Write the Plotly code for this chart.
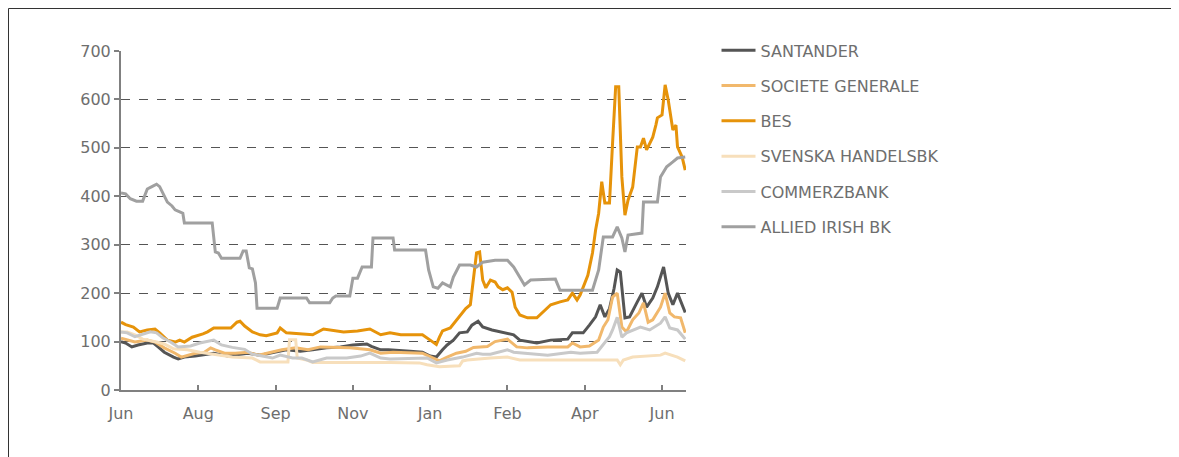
import pandas as pd
import plotly.graph_objects as go

START = pd.Timestamp("2013-06-20")

# days since START, CDS-like spread values
santander_days = [0,3,7,11,17,21,24,28,34,37,41,48,60,69,82,90,107,116,124,133,142,150,159,162,168,173,187,195,200,204,208,211,215,219,224,227,231,234,240,245,250,254,258,269,278,289,292,299,303,307,310,313,316,319,321,323,326,329,334,337,340,344,347,351,354,357,360,364,365]
santander_vals = [100,97,89,93,97,97,89,78,68,64,68,70,76,70,76,72,83,80,83,87,89,93,95,90,83,83,80,78,70,68,83,93,103,118,120,134,142,130,124,120,116,114,103,97,103,105,118,118,134,151,176,151,168,210,248,244,149,151,182,200,171,190,213,254,200,176,200,171,160]

socgen_days = [0,9,17,22,28,35,39,48,54,58,61,67,74,82,89,95,104,113,121,129,148,161,168,176,195,202,206,211,217,223,228,237,242,250,256,263,276,289,292,297,303,309,312,315,318,321,324,327,331,335,338,341,344,349,352,355,358,362,365]
socgen_vals = [107,99,103,99,87,76,68,76,78,87,83,76,76,78,72,76,83,87,83,89,87,83,76,78,76,66,60,68,76,80,88,90,100,105,89,87,89,89,97,89,91,103,130,145,192,200,130,120,145,159,180,140,145,171,200,159,151,149,118]

bes_days = [0,3,8,12,17,22,25,30,35,38,41,46,53,56,60,71,75,77,80,85,90,94,101,103,107,116,124,131,144,153,161,168,174,181,195,200,204,206,208,213,216,219,223,226,228,230,232,234,236,239,242,244,247,250,253,255,258,263,269,273,278,284,289,292,295,297,302,305,307,309,311,313,316,318,320,322,324,326,328,331,334,336,338,340,344,346,347,350,352,354,357,359,360,363,365]
bes_vals = [140,135,130,120,124,126,118,103,99,103,99,109,116,120,128,128,140,142,132,120,114,112,118,128,118,116,114,126,120,122,126,114,118,114,114,103,94,109,122,128,140,150,168,176,227,283,285,227,211,227,223,213,207,211,202,171,155,149,149,161,176,182,186,200,186,196,237,283,330,365,430,386,386,510,626,626,440,361,392,419,502,502,520,496,522,547,562,568,630,599,537,547,502,481,454]

svenska_days = [0,4,9,14,23,28,34,43,51,62,72,85,90,108,109,113,114,120,124,174,193,198,206,219,221,224,230,239,250,258,276,321,323,325,331,349,352,360,365]
svenska_vals = [120,120,114,105,99,95,85,83,78,72,68,66,58,58,104,104,66,62,57,57,56,52,48,50,60,62,64,66,68,62,62,62,52,62,68,72,76,68,60]

commerz_days = [0,4,9,14,19,23,27,32,37,45,51,60,65,72,80,85,98,103,111,117,124,133,146,155,161,168,174,198,204,211,221,230,234,239,250,254,260,276,291,297,308,312,316,318,321,324,327,336,342,349,352,355,360,364,365]
commerz_vals = [120,118,110,115,120,118,108,99,89,91,97,103,93,88,84,74,66,72,66,66,58,66,66,70,76,66,64,66,56,62,68,76,74,74,83,78,76,72,78,76,78,95,110,124,150,109,118,130,124,138,151,128,124,109,105]

aib_days = [0,3,6,10,14,17,20,23,25,27,30,33,35,38,40,41,59,61,63,65,77,79,81,83,85,87,88,101,103,120,122,135,137,139,148,150,153,156,162,163,176,177,197,199,202,205,208,213,215,219,226,230,234,242,250,254,258,261,265,281,284,305,309,312,318,321,324,326,328,337,338,347,349,353,357,360,365]
aib_vals = [407,405,395,390,390,415,420,425,420,407,388,380,372,368,365,345,345,285,283,272,272,287,287,252,250,221,169,169,190,190,180,180,190,194,194,231,231,254,254,314,314,289,289,248,213,210,221,213,233,258,258,254,264,268,268,254,233,217,227,229,206,206,248,316,316,337,314,285,320,324,388,388,440,461,471,479,481]

series_names = ["SANTANDER", "SOCIETE GENERALE", "BES", "SVENSKA HANDELSBK", "COMMERZBANK", "ALLIED IRISH BK"]
series_days = [santander_days, socgen_days, bes_days, svenska_days, commerz_days, aib_days]
series_vals = [santander_vals, socgen_vals, bes_vals, svenska_vals, commerz_vals, aib_vals]
series_colors = ["#555555", "#f1b86c", "#e6930a", "#f7dfbb", "#c9c9c9", "#a0a0a0"]

tick_days = [0, 50, 100, 150, 200, 250, 300, 350]
y_ticks = [0, 100, 200, 300, 400, 500, 600, 700]

FONT = "DejaVu Sans"
TXT = "#6e6e6e"

fig = go.Figure()
for name, d, v, c in zip(series_names, series_days, series_vals, series_colors):
    fig.add_trace(go.Scatter(
        x=START + pd.to_timedelta(d, unit="D"), y=v, name=name, mode="lines",
        line=dict(color=c, width=3), legendgroup=name,
    ))

# page body has an 8px margin; plot area should land at x 121..686, y 51..390
fig.update_layout(
    width=1171, height=449,
    margin=dict(l=113, r=493, t=43, b=67),
    paper_bgcolor="white", plot_bgcolor="white",
    font=dict(family=FONT, size=16, color=TXT),
    showlegend=True,
    legend=dict(x=1.054, y=1.052, xanchor="left", yanchor="top",
                font=dict(family=FONT, size=16, color=TXT),
                itemwidth=34, tracegroupgap=11.5, bgcolor="rgba(0,0,0,0)"),
    xaxis=dict(
        range=[START, START + pd.Timedelta(days=365.5)],
        tickvals=[START + pd.Timedelta(days=t) for t in tick_days],
        tickformat="%b", showgrid=False, zeroline=False,
        showline=True, linecolor="#808080", linewidth=2,
        ticks="inside", ticklen=5, tickcolor="#808080", tickwidth=1.5,
        ticklabelstandoff=8,
        tickfont=dict(family=FONT, size=16, color=TXT),
    ),
    yaxis=dict(
        range=[0, 700], tickvals=y_ticks, showgrid=True,
        gridcolor="#555555", griddash="dash", gridwidth=1.3, zeroline=False,
        showline=True, linecolor="#808080", linewidth=2,
        ticks="outside", ticklen=5, tickcolor="#808080", tickwidth=1.5,
        tickfont=dict(family=FONT, size=16, color=TXT),
    ),
)

# outer frame around the chart
fig.add_shape(type="rect", xref="paper", yref="paper",
              x0=(8.5 - 121) / 565, x1=(1176 - 121) / 565,
              y0=-0.3, y1=(390 - 8.5) / 339,
              line=dict(color="#333333", width=1), fillcolor="rgba(0,0,0,0)")

fig.write_html("out.html")
